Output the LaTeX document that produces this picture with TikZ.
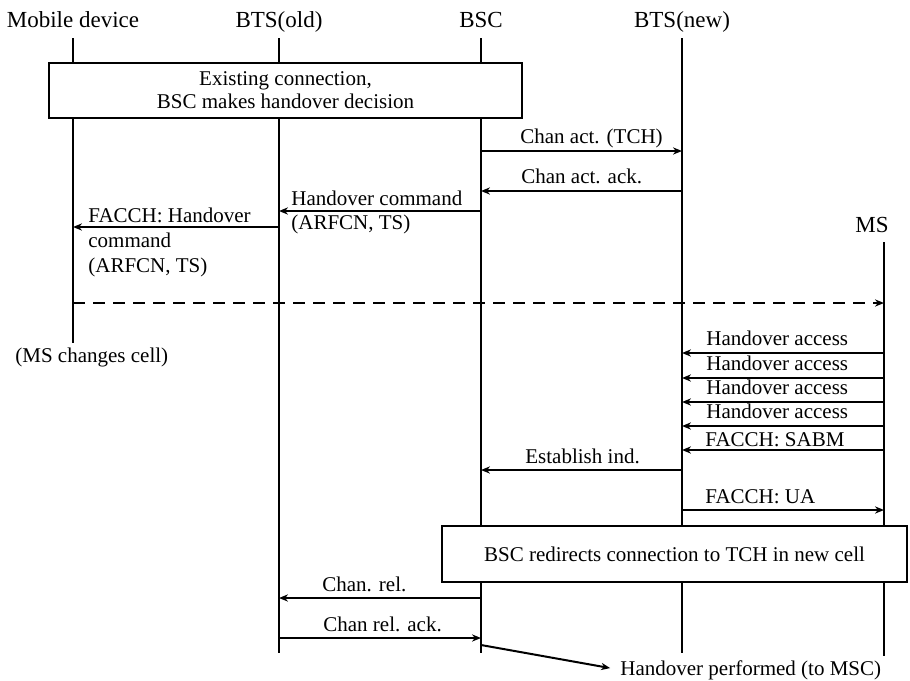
\documentclass[tikz,border=0pt]{standalone}
\usepackage{fontspec}
\setmainfont{Liberation Serif}
\usetikzlibrary{arrows.meta,positioning}

\tikzset{
  life/.style={line width=1.2pt},
  msg/.style={line width=1pt,-{Stealth[length=4.5pt,width=3.6pt]}},
  lbl/.style={anchor=base west,inner sep=0pt,align=left,font=\fontsize{10.5}{12.5}\selectfont},
  head/.style={anchor=base,inner sep=0pt,font=\fontsize{11.5}{13.8}\selectfont},
  note/.style={draw,line width=1.2pt,fill=white,align=center,inner sep=0pt,font=\fontsize{10.5}{11.5}\selectfont}
}

\begin{document}
\begin{tikzpicture}[x=0.5pt,y=-0.5pt]
\useasboundingbox (0,0) rectangle (910,680);

% heads of the lifelines
\node[head] (mob) at (73,27) {Mobile device};
\node[head] (old) at (279,27) {BTS(old)};
\node[head] (bsc) at (481,27) {BSC};
\node[head] (new) at (682,27) {BTS(new)};
\node[head,anchor=base east] (ms) at (889,232) {MS};
\coordinate (mst) at (884,242);

% lifelines
\foreach \n/\e in {mob/343,old/653,bsc/653,new/653}
  \draw[life] (\n |- 0,38) -- (\n |- 0,\e);
\draw[life] (mst) -- (mst |- 0,656);

\node[note,minimum width=236.5pt,minimum height=27.5pt] (exist) at (285.5,90.5)
  {Existing connection,\\BSC makes handover decision};

% channel activation
\draw[msg] (bsc |- 0,151) -- (new |- 0,151);
\node[lbl] (cact) at (520,143) {Chan act. (TCH)};
\draw[msg] (new |- 0,191) -- (bsc |- 0,191);
\node[lbl] (cack) at (521,183) {Chan act. ack.};

% handover command
\draw[msg] (bsc |- 0,211) -- (old |- 0,211);
\node[lbl] (hoc) at (291,205) {Handover command};
\node[lbl] (hocp) at (291,229) {(ARFCN, TS)};
\draw[msg] (old |- 0,227) -- (mob |- 0,227);
\node[lbl] (fhoc) at (88,272) {FACCH: Handover\\command\\(ARFCN, TS)};

\draw[msg,dash pattern=on 6pt off 4pt] (mob |- 0,303) -- (mst |- 0,303);
\node[lbl] (chg) at (15,362) {(MS changes cell)};

% access bursts
\foreach \y in {353,378,402,426} {
  \draw[msg] (mst |- 0,\y) -- (new |- 0,\y);
  \node[lbl] at (706,\y-8) {Handover access};
}
\draw[msg] (mst |- 0,450) -- (new |- 0,450);
\node[lbl] (sabm) at (705,446) {FACCH: SABM};
\draw[msg] (new |- 0,470) -- (bsc |- 0,470);
\node[lbl] (est) at (525,463) {Establish ind.};
\draw[msg] (new |- 0,510) -- (mst |- 0,510);
\node[lbl] (ua) at (705,503) {FACCH: UA};

\node[note,minimum width=232.5pt,minimum height=28pt] (redir) at (674.5,554)
  {BSC redirects connection to TCH in new cell};

% release of the old channel
\draw[msg] (bsc |- 0,598) -- (old |- 0,598);
\node[lbl] (crel) at (322,591) {Chan. rel.};
\draw[msg] (old |- 0,638) -- (bsc |- 0,638);
\node[lbl] (crack) at (323,631) {Chan rel. ack.};

\node[lbl] (hop) at (620,675) {Handover performed (to MSC)};
\draw[msg,shorten >=5pt] (bsc |- 0,645) -- (hop.west);
\end{tikzpicture}
\end{document}
